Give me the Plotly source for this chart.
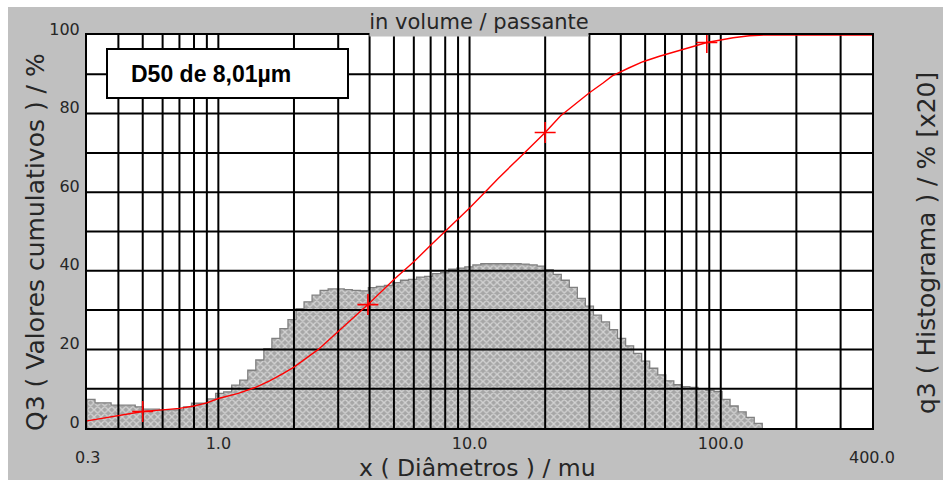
import math
import plotly.graph_objects as go

# ---------------- data ----------------
# histogram size-class edges (µm), log-spaced classes
BIN_EDGES = [0.300, 0.3229, 0.3476, 0.3742, 0.4028, 0.4336, 0.4668, 0.5025, 0.5409, 0.5823,
             0.6268, 0.6747, 0.7263, 0.7819, 0.8416, 0.9060, 0.9753, 1.0499, 1.1301, 1.2165,
             1.3096, 1.4097, 1.5175, 1.6335, 1.7584, 1.8929, 2.0376, 2.1934, 2.3611, 2.5417,
             2.7360, 2.9452, 3.170, 3.413, 3.674, 3.955, 4.257, 4.583, 4.933, 5.310,
             5.716, 6.154, 6.624, 7.130, 7.676, 8.263, 8.894, 9.575, 10.31, 11.09,
             11.94, 12.86, 13.84, 14.90, 16.04, 17.26, 18.58, 20.00, 21.53, 23.18,
             24.95, 26.86, 28.91, 31.13, 33.51, 36.07, 38.83, 41.80, 44.99, 48.43,
             52.13, 56.12, 60.41, 65.03, 70.00, 75.36, 81.12, 87.32, 94.00, 101.2,
             108.9, 117.3, 126.2, 135.9, 146.3]
# q3 histogram (x20), read in left-axis units
Q3_HIST = [7.3, 6.4, 6.4, 5.8, 5.8, 5.8, 5.4, 4.8, 4.8, 4.6,
           4.6, 4.6, 5.4, 6.3, 6.3, 7.4, 8.8, 9.2, 10.9, 12.2,
           14.7, 17.3, 20.2, 22.8, 25.3, 27.6, 30.4, 32.1, 33.8, 35.0,
           35.4, 35.4, 35.2, 35.0, 34.9, 35.7, 36.0, 36.3, 37.0, 37.6,
           37.8, 38.4, 38.6, 39.3, 39.5, 40.4, 40.7, 41.0, 41.5, 41.8,
           41.8, 41.8, 41.8, 41.8, 41.7, 41.5, 41.2, 40.3, 39.1, 37.6,
           35.8, 33.0, 31.0, 28.7, 27.0, 25.0, 22.8, 20.9, 19.0, 17.0,
           15.2, 13.5, 12.0, 11.0, 10.5, 10.3, 10.0, 9.6, 9.3, 7.3,
           5.6, 4.1, 2.7, 1.2]

# Q3 cumulative curve
CUM_X = [0.3, 0.35, 0.4, 0.45, 0.5, 0.6, 0.7, 0.8, 0.9, 1.0,
         1.2, 1.4, 1.6, 1.8, 2.0, 2.5, 3.0, 3.5, 4.0, 5.0,
         6.0, 7.0, 8.0, 9.0, 10.0, 11.36, 13.0, 16.1, 20.0, 23.0,
         30.0, 34.0, 37.0, 43.0, 49.0, 57.0, 67.0, 77.0, 88.0, 100.0,
         112.0, 130.0, 150.0, 400.0]
CUM_Y = [1.8, 2.5, 3.2, 3.7, 4.2, 4.6, 5.0, 5.6, 6.4, 7.5,
         8.8, 10.3, 12.0, 13.8, 15.5, 20.0, 24.5, 28.5, 31.8, 37.8,
         42.3, 46.5, 50.0, 53.0, 56.0, 59.6, 63.5, 69.3, 75.2, 79.4,
         85.3, 87.8, 89.6, 91.6, 93.2, 94.6, 95.8, 97.0, 98.1, 98.8,
         99.3, 99.8, 100.0, 100.0]

MARK_X = [0.5, 3.94, 20.0, 88.0]
MARK_Y = [4.2, 31.4, 75.2, 98.1]

X_GRID = [0.4, 0.5, 0.6, 0.7, 0.8, 0.9, 1, 2, 3, 4, 5, 6, 7, 8, 9,
          10, 20, 30, 40, 50, 60, 70, 80, 90, 100, 200, 300]
Y_GRID = [10, 20, 30, 40, 50, 60, 70, 80, 90]
X_TICKS = [1, 10, 100]
X_TICKTEXT = ["1.0", "10.0", "100.0"]
X_END_VALS = [0.3, 400]
X_END_TEXT = ["0.3", "400.0"]
Y_TICKS = [0, 20, 40, 60, 80, 100]
Y_TICKTEXT = ["0", "20", "40", "60", "80", "100"]
X_RANGE = [0.3, 400]
Y_RANGE = [0, 100]

# ---------------- layout helpers ----------------
W, H = 943, 483
ML, MR, MT, MB = 87, 71, 35, 55
PW, PH = W - ML - MR, H - MT - MB


def px(xp):
    return (xp - ML) / PW


def py(yp):
    return (H - MB - yp) / PH


FONT = "DejaVu Sans"
TXT = "#262626"
GREY = "#c0c0c0"

# histogram step outline
hx = [BIN_EDGES[0]] + BIN_EDGES + [BIN_EDGES[-1]]
hy = [0] + Q3_HIST + [Q3_HIST[-1], 0]

gx, gy = [], []
for v in X_GRID:
    gx += [v, v, None]
    gy += [Y_RANGE[0], Y_RANGE[1], None]
for h in Y_GRID:
    gx += [X_RANGE[0], X_RANGE[1], None]
    gy += [h, h, None]

fig = go.Figure()
fig.add_trace(go.Scatter(
    x=hx, y=hy, mode="lines",
    line=dict(shape="hv", color="#808080", width=1.3),
    fill="tozeroy",
    fillpattern=dict(shape="x", fgcolor="#ffffff", bgcolor="#a6a6a6", size=5, solidity=0.45),
    hoverinfo="skip", showlegend=False))
fig.add_trace(go.Scatter(
    x=gx, y=gy, mode="lines", line=dict(color="#000000", width=2),
    hoverinfo="skip", showlegend=False))
fig.add_trace(go.Scatter(
    x=CUM_X, y=CUM_Y, mode="lines", line=dict(color="#ff0000", width=1.4),
    showlegend=False))
fig.add_trace(go.Scatter(
    x=MARK_X, y=MARK_Y, mode="markers",
    marker=dict(symbol="cross-thin", size=15, line=dict(color="#ff0000", width=1.6)),
    showlegend=False))

fig.update_layout(
    width=W, height=H,
    margin=dict(l=ML, r=MR, t=MT, b=MB, pad=0),
    paper_bgcolor=GREY, plot_bgcolor="white",
    font=dict(family=FONT, color=TXT),
    xaxis=dict(type="log", range=[math.log10(X_RANGE[0]), math.log10(X_RANGE[1])],
               showgrid=False, zeroline=False, showline=True, mirror=True,
               linecolor="black", linewidth=2, ticks="",
               tickvals=X_TICKS, ticktext=X_TICKTEXT,
               tickfont=dict(family=FONT, size=16, color=TXT), ticklabelstandoff=0),
    yaxis=dict(range=Y_RANGE, showgrid=False, zeroline=False, showline=True, mirror=True,
               linecolor="black", linewidth=2, ticks="",
               tickvals=Y_TICKS, ticktext=Y_TICKTEXT,
               tickfont=dict(family=FONT, size=16, color=TXT),
               ticklabelshift=-6, ticklabelstandoff=2),
)

shapes = [
    # white outer strips
    dict(type="rect", xref="paper", yref="paper", x0=px(0), x1=px(W), y0=py(0), y1=py(7),
         fillcolor="white", line=dict(width=0), layer="above"),
    dict(type="rect", xref="paper", yref="paper", x0=px(0), x1=px(8), y0=py(0), y1=py(H),
         fillcolor="white", line=dict(width=0), layer="above"),
    dict(type="rect", xref="paper", yref="paper", x0=px(0), x1=px(W), y0=py(480), y1=py(H),
         fillcolor="white", line=dict(width=0), layer="above"),
    # D50 box
    dict(type="rect", xref="paper", yref="paper", x0=px(107), x1=px(348), y0=py(49), y1=py(98),
         fillcolor="white", line=dict(color="black", width=2), layer="above"),
]
fig.update_layout(shapes=shapes)

ann = [
    dict(text="in volume / passante", xref="paper", yref="paper", x=px(479), y=py(21.5),
         xanchor="center", yanchor="middle", showarrow=False, bgcolor=GREY,
         width=218, height=28, borderpad=0, font=dict(family=FONT, size=21, color=TXT)),
    dict(text="<b>D50 de 8,01µm</b>", xref="paper", yref="paper", x=px(129), y=py(74),
         xanchor="left", yanchor="middle", showarrow=False,
         font=dict(family="Liberation Sans", size=23, color="black")),
    dict(text="Q3 ( Valores cumulativos ) / %", xref="paper", yref="paper", x=px(35), y=py(242),
         xanchor="center", yanchor="middle", textangle=-90, showarrow=False,
         font=dict(family=FONT, size=25, color=TXT)),
    dict(text="q3 ( Histograma ) / % [x20]", xref="paper", yref="paper", x=px(926), y=py(243),
         xanchor="center", yanchor="middle", textangle=-90, showarrow=False,
         font=dict(family=FONT, size=25, color=TXT)),
    dict(text="x ( Diâmetros ) / mu", xref="paper", yref="paper", x=px(477), y=py(468),
         xanchor="center", yanchor="middle", showarrow=False,
         font=dict(family=FONT, size=23.5, color=TXT)),
]
for v, t in zip(X_END_VALS, X_END_TEXT):
    ann.append(dict(text=t, xref="x", yref="paper", x=math.log10(v), y=py(457),
                    xanchor="center", yanchor="middle", showarrow=False,
                    font=dict(family=FONT, size=16, color=TXT)))
fig.update_layout(annotations=ann)

fig.write_html("out.html")
